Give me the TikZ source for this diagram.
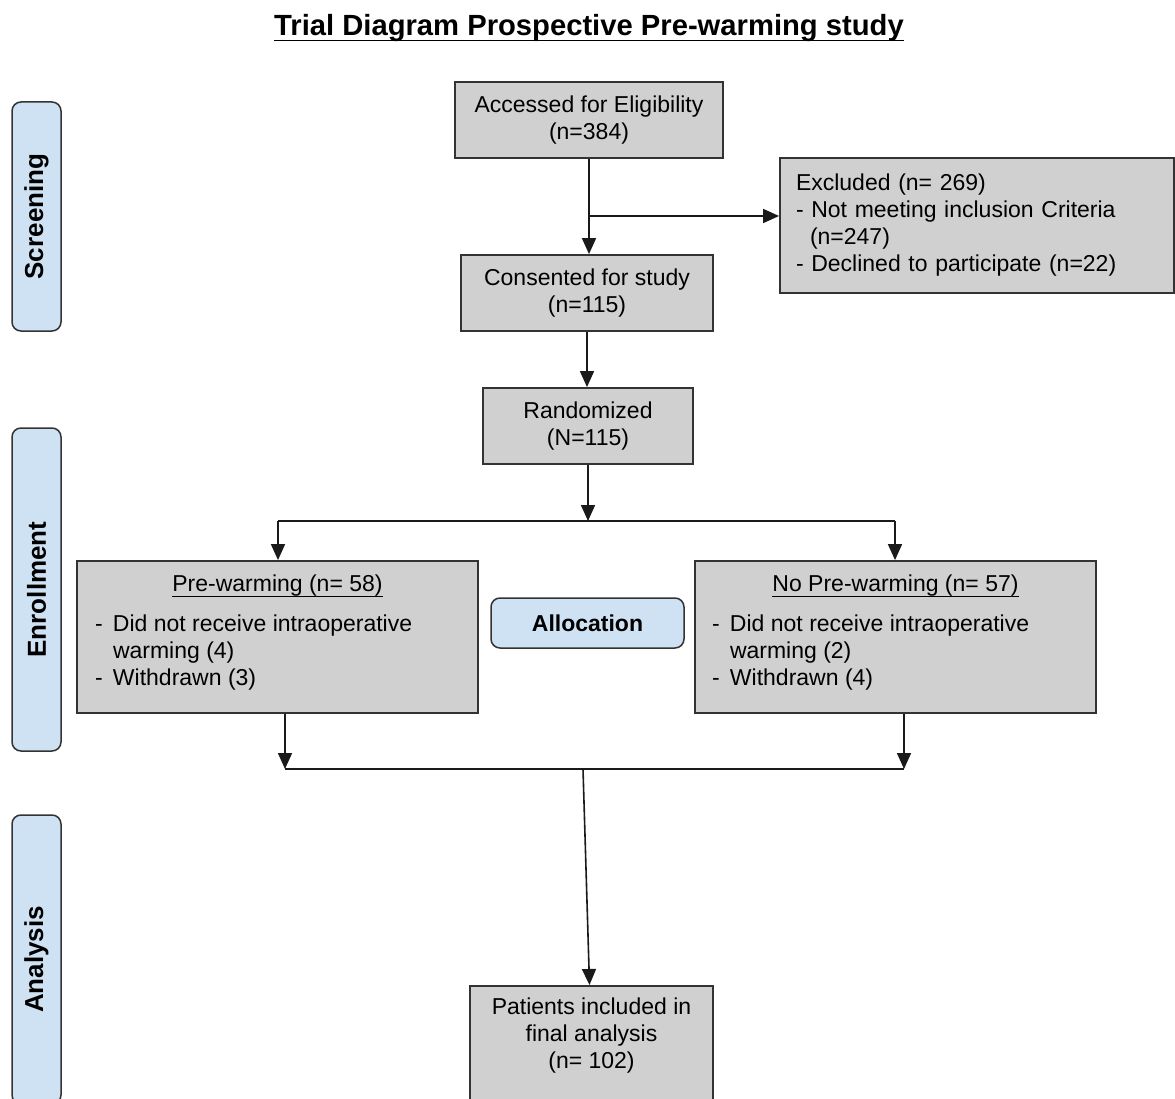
\documentclass[tikz,border=0pt]{standalone}
\usepackage{fontspec}
\setmainfont{Liberation Sans}
\usetikzlibrary{arrows.meta,calc}
\definecolor{boxgray}{HTML}{D0D0D0}
\definecolor{sideblue}{HTML}{CFE2F3}
\definecolor{edgec}{HTML}{333333}
\definecolor{linec}{HTML}{1A1A1A}
\newsavebox{\myulbox}
\newcommand{\myul}[3]{\leavevmode\sbox{\myulbox}{#3}\rlap{\rule[-#1]{\wd\myulbox}{#2}}\usebox{\myulbox}}
\begin{document}
\begin{tikzpicture}[x=1pt,y=-1pt,
  box/.style={draw=edgec, line width=1.8pt, fill=boxgray, inner sep=0pt, font=\fontsize{23}{27}\selectfont, align=center},
  side/.style={draw=edgec, line width=1.5pt, fill=sideblue, rounded corners=9pt, rotate=90, minimum height=49pt, inner sep=0pt, font=\fontsize{26}{30}\selectfont\bfseries},
  arr/.style={draw=linec, line width=1.6pt, -{Triangle[length=16pt,width=14pt]}},
  ln/.style={draw=linec, line width=1.6pt},
]
\useasboundingbox (0,0) rectangle (1175,1099);
\fill[white] (0,0) rectangle (1175,1099);

% title
\node[font=\fontsize{29.2}{34}\selectfont\bfseries, inner sep=0pt] (title) at (589,28) {\myul{6pt}{1.6pt}{Trial Diagram Prospective Pre-warming study}};

% side labels
\node[side, minimum width=229pt] (scr) at (36.5,216.5) {Screening};
\node[side, minimum width=323pt] (enr) at (36.5,589.5) {Enrollment};
\node[side, minimum width=289pt] (ana) at (36.5,959.5) {Analysis};

% boxes
\node[box, minimum width=268pt, minimum height=76pt] (acc) at (589,120) {Accessed for Eligibility\\(n=384)};
\node[box, minimum width=394pt, minimum height=135pt, align=left, text width=362pt, inner xsep=16pt] (exc) at (977,225.5)
  {Excluded (n= 269)\\- Not meeting inclusion Criteria\\\hspace*{14pt}(n=247)\\- Declined to participate (n=22)};
\node[box, minimum width=252pt, minimum height=76pt] (cons) at (587,293) {Consented for study\\(n=115)};
\node[box, minimum width=210pt, minimum height=76pt] (rand) at (588,426) {Randomized\\(N=115)};

\node[draw=edgec, line width=1.5pt, fill=sideblue, rounded corners=9pt, minimum width=193pt, minimum height=50pt, inner sep=0pt,
  font=\fontsize{23}{27}\selectfont\bfseries] (alloc) at (587.5,623) {Allocation};

\node[box, minimum width=401pt, minimum height=152pt, inner xsep=18pt] (pre) at (277.5,637)
  {\begin{minipage}{365pt}\centering\myul{5pt}{1.2pt}{Pre-warming (n= 58)}\par\vspace{13pt}\raggedright
   \makebox[18pt][l]{-}Did not receive intraoperative\par
   \hspace*{18pt}warming (4)\par
   \makebox[18pt][l]{-}Withdrawn (3)\par\vspace{8pt}\end{minipage}};
\node[box, minimum width=401pt, minimum height=152pt, inner xsep=17pt] (nopre) at (895.5,637)
  {\begin{minipage}{367pt}\centering\myul{5pt}{1.2pt}{No Pre-warming (n= 57)}\par\vspace{13pt}\raggedright
   \makebox[18pt][l]{-}Did not receive intraoperative\par
   \hspace*{18pt}warming (2)\par
   \makebox[18pt][l]{-}Withdrawn (4)\par\vspace{8pt}\end{minipage}};

\node[box, minimum width=243pt, minimum height=130pt, anchor=north] (final) at (591.5,985)
  {\begin{minipage}{230pt}\centering Patients included in\\final analysis\\(n= 102)\par\vspace{31pt}\end{minipage}};

% connectors
\draw[arr] (acc.south) -- (acc.south |- cons.north);
\coordinate (b1) at (589,216);
\draw[arr] (b1) -- (exc.west |- b1);
\draw[arr] (cons.south) -- (cons.south |- rand.north);
\coordinate (split) at (588,521);
\coordinate (sl) at (278,521);
\coordinate (sr) at (895,521);
\draw[arr] (rand.south) -- (split);
\draw[ln] (sl) -- (sr);
\draw[arr] (sl) -- (sl |- pre.north);
\draw[arr] (sr) -- (sr |- nopre.north);
\coordinate (jl) at (285,769);
\coordinate (jr) at (904,769);
\coordinate (jm) at (583,769);
\draw[arr] (pre.south -| jl) -- (jl);
\draw[arr] (nopre.south -| jr) -- (jr);
\draw[ln] (jl) -- (jr);
\draw[arr] (jm) -- ([xshift=-2pt]final.north);
\end{tikzpicture}
\end{document}
